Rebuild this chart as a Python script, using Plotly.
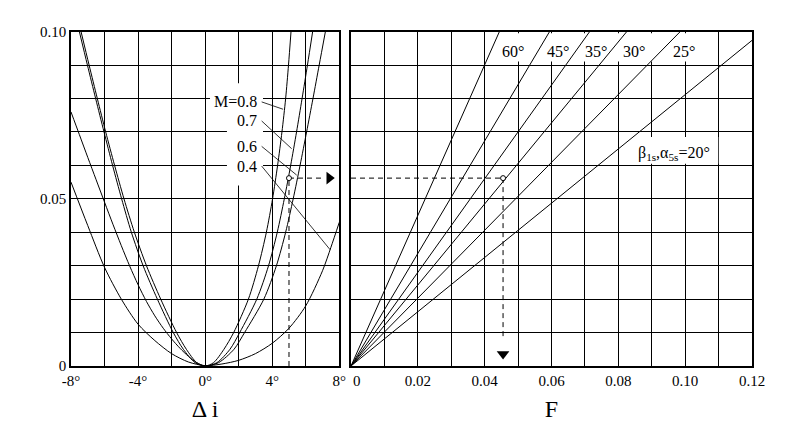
import plotly.graph_objects as go

# ---- data --------------------------------------------------------------
# left panel: loss vs incidence deviation (deg) for several Mach numbers
di_m08 = [-7.40, -6.92, -6.43, -5.93, -5.40, -4.84, -4.22, -3.50, -2.65, -1.70, -1.12, -0.50, 0.0,
          0.50, 1.12, 1.70, 2.58, 3.18, 3.65, 4.02, 4.32, 4.58, 4.80, 4.97, 5.12]
loss_m08 = [0.100, 0.090, 0.080, 0.070, 0.060, 0.050, 0.040, 0.030, 0.020, 0.010, 0.005, 0.001, 0.0,
            0.001, 0.005, 0.010, 0.020, 0.030, 0.040, 0.050, 0.060, 0.070, 0.080, 0.090, 0.100]

di_m07 = [-7.50, -7.02, -6.53, -6.03, -5.52, -4.98, -4.40, -3.70, -2.85, -1.90, -1.30, -0.60, 0.0,
          0.70, 1.48, 2.06, 3.08, 3.78, 4.30, 4.72, 5.10, 5.45, 5.78, 6.10, 6.41]
loss_m07 = [0.100, 0.090, 0.080, 0.070, 0.060, 0.050, 0.040, 0.030, 0.020, 0.010, 0.005, 0.001, 0.0,
            0.001, 0.005, 0.010, 0.020, 0.030, 0.040, 0.050, 0.060, 0.070, 0.080, 0.090, 0.100]

di_m06 = [-8.0, -7.5, -7.0, -6.5, -6.0, -5.5, -5.0, -4.5, -4.0, -3.5, -3.0, -2.5, -2.0, -1.5, -1.0, -0.5, 0.0,
          0.80, 1.72, 2.35, 3.50, 4.25, 4.80, 5.25, 5.66, 6.05, 6.43, 6.80, 7.17]
loss_m06 = [0.0760, 0.0692, 0.0624, 0.0557, 0.0490, 0.0424, 0.0360, 0.0299, 0.0243, 0.0193, 0.0150,
            0.0113, 0.0081, 0.0053, 0.0029, 0.0010, 0.0,
            0.001, 0.005, 0.010, 0.020, 0.030, 0.040, 0.050, 0.060, 0.070, 0.080, 0.090, 0.100]

di_m04 = [-8, -7, -6, -5, -4, -3, -2, -1, 0, 1, 2, 3, 4, 5, 6, 7, 7.5, 8]
loss_m04 = [0.0550, 0.0420, 0.0295, 0.0200, 0.0125, 0.0076, 0.0037, 0.0012, 0.0001,
            0.0006, 0.0017, 0.0037, 0.0068, 0.0113, 0.0180, 0.0285, 0.0355, 0.0430]

m_labels = ['M=0.8', '0.7', '0.6', '0.4']
m_label_y = [0.0790, 0.0733, 0.0657, 0.0598]
# where each leader line touches its curve
m_leader_di = [4.65, 5.16, 5.46, 7.45]
m_leader_loss = [0.0768, 0.0650, 0.0571, 0.0348]

# right panel: straight lines from the origin, F where each reaches loss 0.10
beta_labels = ['60°', '45°', '35°', '30°', '25°', '20°']
f_at_top = [0.0444, 0.0594, 0.0714, 0.0825, 0.0985, 0.1232]
beta_label_f = [0.0485, 0.0620, 0.0733, 0.0847, 0.0997]

# worked example
di_example = 5.0
loss_example = 0.0562
f_example = 0.0455

left_ticks = [-8, -4, 0, 4, 8]
right_ticks = [0.02, 0.04, 0.06, 0.08, 0.10, 0.12]
right_ticktext = ['0.02', '0.04', '0.06', '0.08', '0.10', '0.12']
# the "0" of the F axis sits a bit right of the corner, drawn on its own below

SERIF = 'Liberation Serif'
W, H = 800, 445
PAGE_OFFSET = 8  # the html body margin pushes the figure 8px right and down


def dom_x(px0, px1):
    return [(px0 - PAGE_OFFSET) / W, (px1 - PAGE_OFFSET) / W]


def dom_y(py_top, py_bottom):
    return [1 - (py_bottom - PAGE_OFFSET) / H, 1 - (py_top - PAGE_OFFSET) / H]


def build_figure():
    fig = go.Figure()

    # 1. loss curves, left panel
    curves = [(di_m08, loss_m08), (di_m07, loss_m07), (di_m06, loss_m06), (di_m04, loss_m04)]
    for di, loss in curves:
        fig.add_trace(go.Scatter(
            x=di, y=loss, mode='lines', xaxis='x', yaxis='y',
            line=dict(color='black', width=1, shape='spline', smoothing=0.8),
            hoverinfo='skip', showlegend=False))

    # leader lines from labels to curves
    for lab_y, ld, ll in zip(m_label_y, m_leader_di, m_leader_loss):
        fig.add_trace(go.Scatter(
            x=[3.37, ld], y=[lab_y, ll], mode='lines', xaxis='x', yaxis='y',
            line=dict(color='black', width=0.8), hoverinfo='skip', showlegend=False))

    # 2. angle lines, right panel
    for f in f_at_top:
        fig.add_trace(go.Scatter(
            x=[0, f], y=[0, 0.10], mode='lines', xaxis='x2', yaxis='y2',
            line=dict(color='black', width=1), hoverinfo='skip', showlegend=False))

    # 3. dashed example path
    dash = dict(color='black', width=1, dash='5px,4px')
    fig.add_trace(go.Scatter(x=[di_example, di_example], y=[0, loss_example], mode='lines',
                             xaxis='x', yaxis='y', line=dash, hoverinfo='skip', showlegend=False))
    fig.add_trace(go.Scatter(x=[di_example, 7.0], y=[loss_example, loss_example], mode='lines',
                             xaxis='x', yaxis='y', line=dash, hoverinfo='skip', showlegend=False))
    fig.add_trace(go.Scatter(x=[0, f_example], y=[loss_example, loss_example], mode='lines',
                             xaxis='x2', yaxis='y2', line=dash, hoverinfo='skip', showlegend=False))
    fig.add_trace(go.Scatter(x=[f_example, f_example], y=[loss_example, 0.008], mode='lines',
                             xaxis='x2', yaxis='y2', line=dash, hoverinfo='skip', showlegend=False))

    # arrowheads and circles
    fig.add_trace(go.Scatter(x=[7.4], y=[loss_example], mode='markers', xaxis='x', yaxis='y',
                             marker=dict(symbol='triangle-right', size=11, color='black'),
                             hoverinfo='skip', showlegend=False))
    fig.add_trace(go.Scatter(x=[f_example], y=[0.0036], mode='markers', xaxis='x2', yaxis='y2',
                             marker=dict(symbol='triangle-down', size=11, color='black'),
                             hoverinfo='skip', showlegend=False))
    fig.add_trace(go.Scatter(x=[di_example], y=[loss_example], mode='markers', xaxis='x', yaxis='y',
                             marker=dict(symbol='circle', size=5, color='white',
                                         line=dict(color='black', width=1)),
                             hoverinfo='skip', showlegend=False))
    fig.add_trace(go.Scatter(x=[f_example], y=[loss_example], mode='markers', xaxis='x2', yaxis='y2',
                             marker=dict(symbol='circle', size=5, color='white',
                                         line=dict(color='black', width=1)),
                             hoverinfo='skip', showlegend=False))

    # 4. axes (automargin off so the domains stay where the reference has them)
    tickfont = dict(family=SERIF, size=15, color='black')
    base = dict(showline=True, mirror=True, linecolor='black', linewidth=1.5,
                showgrid=True, gridcolor='black', gridwidth=1.4, ticks='',
                zeroline=False, tickfont=tickfont, fixedrange=True, automargin=False)
    minor_x1 = dict(tickmode='linear', tick0=-8, dtick=2, showgrid=True,
                    gridcolor='black', gridwidth=1.4)
    minor_01 = dict(tickmode='linear', tick0=0, dtick=0.01, showgrid=True,
                    gridcolor='black', gridwidth=1.4)
    title_font = dict(family=SERIF, size=24, color='black')
    panel_y = dom_y(31.7, 366)

    fig.update_layout(
        width=W, height=H, autosize=False,
        margin=dict(l=0, r=0, t=0, b=0, pad=0),
        paper_bgcolor='white', plot_bgcolor='white',
        showlegend=False,
        xaxis=dict(base, domain=dom_x(71, 339.3), range=[-8, 8],
                   tickmode='array', tickvals=left_ticks,
                   ticktext=[f'{t}°' for t in left_ticks], minor=minor_x1,
                   title=dict(text='Δ i', font=title_font, standoff=12)),
        yaxis=dict(base, domain=panel_y, range=[0, 0.1],
                   tickmode='array', tickvals=[0, 0.05, 0.10], ticktext=['0', '0.05', '0.10'],
                   minor=minor_01),
        xaxis2=dict(base, domain=dom_x(351, 752), range=[0, 0.12], anchor='y2',
                    tickmode='array', tickvals=right_ticks, ticktext=right_ticktext,
                    minor=minor_01,
                    title=dict(text='F', font=title_font, standoff=12)),
        yaxis2=dict(base, domain=panel_y, range=[0, 0.1], anchor='x2',
                    showticklabels=False, tickmode='array', tickvals=[0, 0.05, 0.10],
                    minor=minor_01),
    )

    # 5. white patches behind labels (hide grid, keep curves)
    patches = [
        ('x', 'y', 0.29, 3.45, 0.0757, 0.0846),
        ('x', 'y', 1.30, 3.45, 0.0540, 0.0757),
        ('x2', 'y2', 0.046, 0.106, 0.0911, 0.0995),
        ('x2', 'y2', 0.082, 0.1099, 0.0605, 0.0685),
    ]
    for xr, yr, x0, x1, y0, y1 in patches:
        fig.add_shape(type='rect', xref=xr, yref=yr, x0=x0, x1=x1, y0=y0, y1=y1,
                      fillcolor='white', line=dict(width=0), layer='between')

    # 6. labels
    lab_font = dict(family=SERIF, size=16, color='black')
    for text, ly in zip(m_labels, m_label_y):
        fig.add_annotation(x=3.2, y=ly, xref='x', yref='y', text=text, showarrow=False,
                           xanchor='right', yanchor='middle', font=lab_font)
    for text, bf in zip(beta_labels, beta_label_f):
        fig.add_annotation(x=bf, y=0.0941, xref='x2', yref='y2', text=text, showarrow=False,
                           xanchor='center', yanchor='middle', font=lab_font)
    fig.add_annotation(x=0.0968, y=0.0636, xref='x2', yref='y2',
                       text='β<sub>1s</sub>,α<sub>5s</sub>=20°', showarrow=False,
                       xanchor='center', yanchor='middle', font=lab_font)
    # origin label of the F axis
    fig.add_annotation(x=0.0019, y=panel_y[0], xref='x2', yref='paper', text='0',
                       showarrow=False, xanchor='center', yanchor='top', yshift=-5,
                       font=tickfont)
    return fig


if __name__ == '__main__':
    fig = build_figure()
    fig.write_html('out.html')
    print('saved out.html')
